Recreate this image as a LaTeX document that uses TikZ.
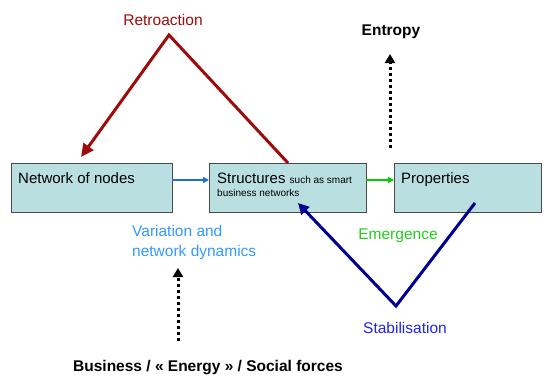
\documentclass[tikz,border=0pt]{standalone}
\usepackage{fontspec}
\setmainfont{Liberation Sans}
\usetikzlibrary{arrows.meta}
\definecolor{boxfill}{HTML}{B9DFE1}
\definecolor{boxline}{HTML}{4A4A4A}
\definecolor{retro}{HTML}{9E0B0B}
\definecolor{navy}{HTML}{000090}
\definecolor{varblue}{HTML}{3399FF}
\definecolor{emgreen}{HTML}{22CC22}
\definecolor{stabblue}{HTML}{2222EE}
\definecolor{linkblue}{HTML}{1E6FD6}
\definecolor{linkgreen}{HTML}{00CC00}
\begin{document}
\begin{tikzpicture}[x=1pt,y=-1pt,
  box/.style={draw=boxline,fill=boxfill,line width=0.9pt},
  boxlbl/.style={font=\fontsize{15}{18}\selectfont,inner sep=0pt},
  lbl/.style={font=\fontsize{15.5}{18}\selectfont,inner sep=0pt},
  blbl/.style={font=\fontsize{15.5}{18}\selectfont\bfseries,inner sep=0pt},
  dotarrow/.style={line width=3pt,dash pattern=on 3pt off 3pt,-{Triangle[length=9pt,width=10pt]}},
  link/.style={line width=1.6pt,-{Triangle[length=6pt,width=6pt]}}]
\useasboundingbox (0,0) rectangle (544,378);
% boxes
\draw[box] (11,163) rectangle (172,212);
\draw[box] (209,163) rectangle (366,212);
\draw[box] (394,163) rectangle (541,212);
\coordinate (netE) at (172,180);
\coordinate (strW) at (209,180);
\coordinate (strE) at (366,180);
\coordinate (proW) at (394,180);
\node[boxlbl,anchor=base west] (net) at (18,183) {Network of nodes};
\node[boxlbl,anchor=base west] (str) at (217,183) {Structures {\fontsize{10}{12}\selectfont such as smart}};
\node[anchor=base west,inner sep=0pt,font=\fontsize{10}{12}\selectfont] (str2) at (217,196) {business networks};
\node[boxlbl,anchor=base west] (pro) at (401,183) {Properties};
% links
\draw[link,linkblue] (netE) -- (strW);
\draw[link,linkgreen] (strE) -- (proW);
% retroaction
\node[lbl,text=retro] (retro) at (163,20) {Retroaction};
\coordinate (apex) at (169,35);
\coordinate (retroEnd) at (288,163);
\coordinate (retroTip) at (81,157);
\draw[retro,line width=3pt,-{Triangle[length=13pt,width=12pt]},line join=miter] (retroEnd) -- (apex) -- (retroTip);
% stabilisation V
\coordinate (vR) at (475,203);
\coordinate (vB) at (396,306);
\coordinate (vTip) at (298,203);
\draw[navy,line width=3pt,-{Triangle[length=11pt,width=11pt]},line join=miter] (vR) -- (vB) -- (vTip);
\node[lbl,text=emgreen] (em) at (398,236) {Emergence};
\node[lbl,text=stabblue] (stab) at (405,328) {Stabilisation};
% variation
\node[lbl,text=varblue,anchor=base west] (var1) at (132,236) {Variation and};
\node[lbl,text=varblue,anchor=base west] (var2) at (132,256) {network dynamics};
% dotted arrows
\coordinate (bizS) at (178,341);
\coordinate (bizT) at (178,268);
\draw[dotarrow] (bizS) -- (bizT);
\node[blbl] (biz) at (208,368) {Business / « Energy » / Social forces};
\coordinate (entS) at (390,148);
\coordinate (entT) at (390,54);
\draw[dotarrow] (entS) -- (entT);
\node[blbl] (ent) at (391,32) {Entropy};
\end{tikzpicture}
\end{document}
